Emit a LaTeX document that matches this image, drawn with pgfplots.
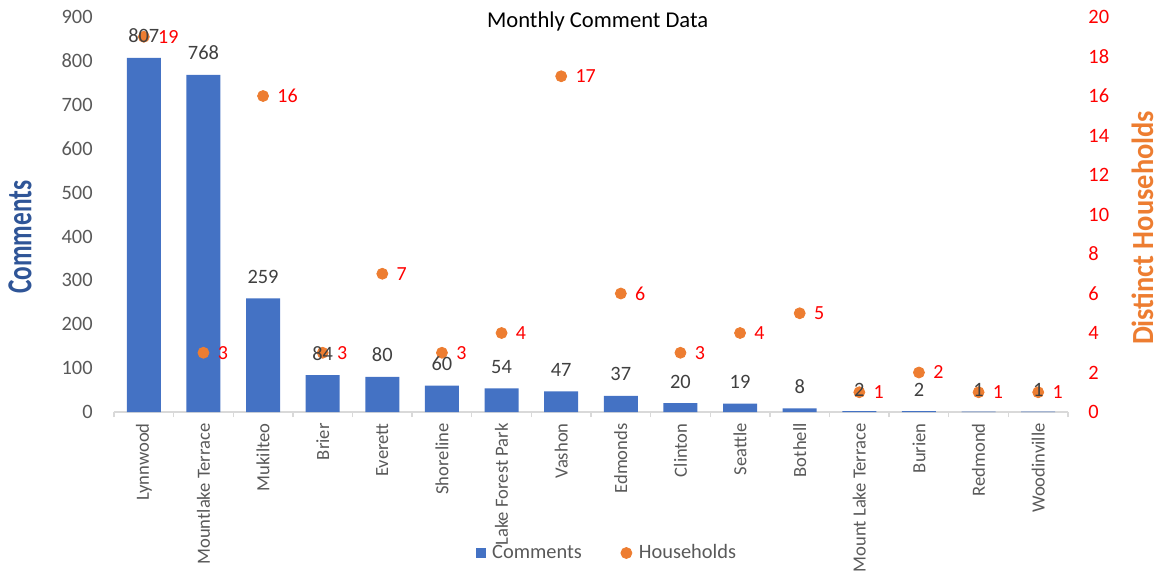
\documentclass[border=0pt]{standalone}
\usepackage{fontspec}
\setmainfont{Carlito}
\usepackage{graphicx}
\usepackage{pgfplots}
\usepackage{pgfplotstable}
\pgfplotsset{compat=1.18}
\definecolor{barblue}{HTML}{4472C4}
\definecolor{dotorange}{HTML}{ED7D31}
\definecolor{txtgray}{HTML}{595959}
\definecolor{lblgray}{HTML}{404040}
\definecolor{axgray}{HTML}{D9D9D9}
\definecolor{lblblue}{HTML}{2F5597}
\definecolor{hhred}{HTML}{FF0000}
\pgfplotsset{/pgf/number format/assume math mode=true}
\pgfplotsset{markleg/.style={legend image code/.code={\draw[##1] plot coordinates {(0pt,0pt)};}}}
\pgfplotstableread{
x c h
0 807 19
1 768 3
2 259 16
3 84 3
4 80 7
5 60 3
6 54 4
7 47 17
8 37 6
9 20 3
10 19 4
11 8 5
12 2 1
13 2 2
14 1 1
15 1 1
}\datatable
\pgfplotsset{base/.style={scale only axis, width=477pt, height=197.5pt,
  xmin=-0.5, xmax=15.5, at={(0,0)}, anchor=south west}}
\begin{document}
\begin{tikzpicture}
\begin{axis}[base, ymin=0, ymax=900, clip=false,
  axis x line*=bottom, axis y line*=left,
  axis line style={-},
  y axis line style={draw=none},
  x axis line style={draw=axgray, line width=0.7pt},
  ytick={0,100,...,900},
  yticklabel style={font=\fontsize{10.2}{12}\selectfont, text=txtgray, inner sep=0pt, xshift=-10.5pt},
  xtick={0,...,15},
  xticklabels={Lynnwood,Mountlake Terrace,Mukilteo,Brier,Everett,Shoreline,Lake Forest Park,Vashon,Edmonds,Clinton,Seattle,Bothell,Mount Lake Terrace,Burien,Redmond,Woodinville},
  xticklabel style={yshift=-5.5pt, rotate=90, anchor=east, inner sep=0pt, font=\fontsize{9.3}{11}\selectfont, text=txtgray},
  major tick length=0pt,
  minor xtick={-0.5,0.5,...,15.5},
  minor tick length=2.5pt,
  tick align=outside,
  tick style={draw=axgray, line width=0.7pt},
  ylabel={\resizebox{56.5pt}{11.5pt}{\bfseries Comments}},
  ylabel style={at={(axis description cs:-0.0985,0.443)}, anchor=center, text=lblblue, inner sep=0pt},
]
\addplot[ybar, bar width=0.57, fill=barblue, draw=none] table[x=x,y=c]{\datatable};
\node[anchor=base, inner sep=0pt, font=\fontsize{11.3}{13}\selectfont, text=black] at (axis description cs:0.507,0.9747) {Monthly Comment Data};
\end{axis}
\begin{axis}[base, ymin=0, ymax=20, clip=false,
  axis y line*=right, axis x line=none,
  axis line style={-},
  y axis line style={draw=none},
  ytick={0,2,...,20},
  major tick length=0pt,
  yticklabel style={font=\fontsize{10.2}{12}\selectfont, text=hhred, inner sep=0pt, xshift=10pt},
  ylabel={\resizebox{117pt}{10.8pt}{\bfseries Distinct Households}},
  ylabel style={at={(axis description cs:1.078,0.466)}, anchor=center, text=dotorange, inner sep=0pt},
  legend columns=2,
  legend style={at={(axis description cs:0.5195,-0.357)}, anchor=center, draw=none, fill=none,
    font=\fontsize{10.2}{12}\selectfont, text=txtgray,
    /tikz/every even column/.append style={column sep=16pt},
    nodes={inner sep=3.5pt}},
]
\addlegendimage{only marks, mark=square*, mark size=2.25pt, color=barblue, markleg}
\addlegendentry{Comments}
\addplot[only marks, mark=*, mark size=2.75pt, color=dotorange, markleg,
  nodes near coords, point meta=y,
  every node near coord/.append style={anchor=west, inner sep=0pt, xshift=7pt, text=hhred, font=\fontsize{10}{12}\selectfont}]
  table[x=x,y=h]{\datatable};
\addlegendentry{Households}
\end{axis}
\begin{axis}[base, ymin=0, ymax=900, hide axis, clip=false]
\addplot[draw=none, mark=none, nodes near coords, point meta=y,
  every node near coord/.append style={anchor=base, inner sep=0pt, yshift=7.5pt, text=lblgray, font=\fontsize{10.2}{12}\selectfont}]
  table[x=x,y=c]{\datatable};
\end{axis}
\pgfresetboundingbox
\path[use as bounding box] (-57pt,-80.5pt) rectangle (522.5pt,206pt);
\end{tikzpicture}
\end{document}
